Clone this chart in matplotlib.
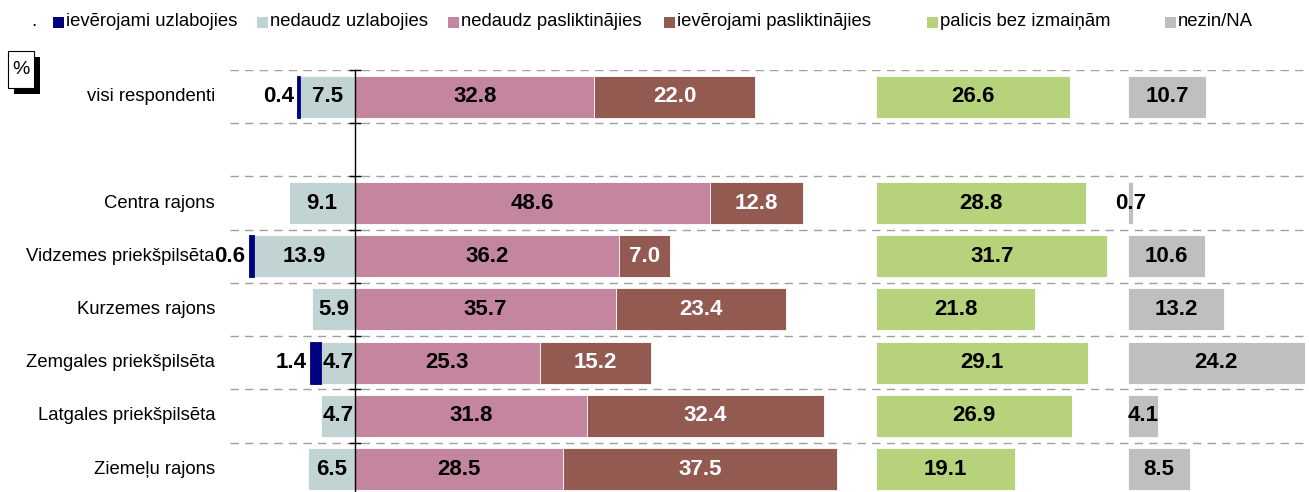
import matplotlib
matplotlib.use("Agg")
import matplotlib.pyplot as plt
from matplotlib.patches import Rectangle
import numpy as np

plt.rcParams['font.family'] = ['Liberation Sans', 'DejaVu Sans']

categories = ["visi respondenti", "Centra rajons", "Vidzemes priekšpilsēta", "Kurzemes rajons",
              "Zemgales priekšpilsēta", "Latgales priekšpilsēta", "Ziemeļu rajons"]
iev_uzl = [0.4, 0.0, 0.6, 0.0, 1.4, 0.0, 0.0]
ned_uzl = [7.5, 9.1, 13.9, 5.9, 4.7, 4.7, 6.5]
ned_pas = [32.8, 48.6, 36.2, 35.7, 25.3, 31.8, 28.5]
iev_pas = [22.0, 12.8, 7.0, 23.4, 15.2, 32.4, 37.5]
palicis = [26.6, 28.8, 31.7, 21.8, 29.1, 26.9, 19.1]
nezin = [10.7, 0.7, 10.6, 13.2, 24.2, 4.1, 8.5]
legend_labels = ["ievērojami uzlabojies", "nedaudz uzlabojies", "nedaudz pasliktinājies",
                 "ievērojami pasliktinājies", "palicis bez izmaiņām", "nezin/NA"]

colors = ["#000080", "#C2D3D3", "#C4869E", "#935A52", "#B6D27B", "#BFBFBF"]

W, H = 1309, 492
fig = plt.figure(figsize=(W / 100, H / 100), dpi=100)

def fx(x):
    return x / W

def fy(y):
    return 1 - y / H

# axes geometry in pixels
ax_left, ax_right, ax_top, ax_bottom = 230, 1309, 70, 492
ax = fig.add_axes([fx(ax_left), fy(ax_bottom), (ax_right - ax_left) / W, (ax_bottom - ax_top) / H])

scale = 7.3  # px per unit
zero_px = 355
xmin = (ax_left - zero_px) / scale
xmax = (ax_right - zero_px) / scale
green_off = (876 - zero_px) / scale
gray_off = (1128 - zero_px) / scale

ypos = np.array([0] + list(range(2, 2 + len(categories) - 1)))
ax.set_xlim(xmin, xmax)
ax.set_ylim(7.43, -0.5)

bh = 0.79
iev_uzl = np.array(iev_uzl); ned_uzl = np.array(ned_uzl)
ned_pas = np.array(ned_pas); iev_pas = np.array(iev_pas)
palicis = np.array(palicis); nezin = np.array(nezin)

ek = dict(edgecolor="white", linewidth=0.6, zorder=3)
ax.barh(ypos, -ned_uzl, height=bh, color=colors[1], **ek)
mask = iev_uzl > 0
ax.barh(ypos[mask], -iev_uzl[mask], left=-ned_uzl[mask], height=bh, color=colors[0],
        edgecolor=colors[0], linewidth=0.6, zorder=3)
ax.barh(ypos, ned_pas, height=bh, color=colors[2], **ek)
ax.barh(ypos, iev_pas, left=ned_pas, height=bh, color=colors[3], **ek)
ax.barh(ypos, palicis, left=green_off, height=bh, color=colors[4], **ek)
ax.barh(ypos, nezin, left=gray_off, height=bh, color=colors[5], **ek)

tk = dict(fontsize=16, fontweight="bold", va="center", zorder=5)
for i, y in enumerate(ypos):
    ax.text(-ned_uzl[i] / 2, y, f"{ned_uzl[i]:.1f}", ha="center", color="black", **tk)
    if iev_uzl[i] > 0:
        ax.text(-ned_uzl[i] - iev_uzl[i] - 0.5, y, f"{iev_uzl[i]:.1f}", ha="right", color="black", **tk)
    ax.text(ned_pas[i] / 2, y, f"{ned_pas[i]:.1f}", ha="center", color="black", **tk)
    ax.text(ned_pas[i] + iev_pas[i] / 2, y, f"{iev_pas[i]:.1f}", ha="center", color="white", **tk)
    ax.text(green_off + palicis[i] / 2, y, f"{palicis[i]:.1f}", ha="center", color="black", **tk)
    ax.text(gray_off + nezin[i] / 2, y, f"{nezin[i]:.1f}", ha="center", color="black", **tk)
    ax.text(-15 / (ax_right - ax_left), y, categories[i], ha="right", va="center",
            fontsize=13.3, color="black", transform=ax.get_yaxis_transform())

# dashed separators
bounds = [-0.5, 0.5, 1.5, 2.5, 3.5, 4.5, 5.5, 6.5]
ax.hlines(bounds, xmin, xmax, colors="#A0A0A0", linewidth=1.0, linestyles=(0, (6, 4.5)), zorder=1)

# spines / ticks
for s in ["top", "right", "bottom"]:
    ax.spines[s].set_visible(False)
ax.spines["left"].set_position(("data", 0))
ax.spines["left"].set_linewidth(1.0)
ax.spines["left"].set_zorder(6)
ax.set_xticks([])
ax.set_yticks(bounds)
ax.set_yticklabels([])
ax.tick_params(axis="y", direction="inout", length=8, width=1.0)

# legend (manual)
leg_x = [53, 257, 448, 664, 927, 1165]
for x, c, lab in zip(leg_x, colors, legend_labels):
    fig.patches.append(Rectangle((fx(x), fy(28)), 11 / W, 11 / H, transform=fig.transFigure,
                                 facecolor=c, edgecolor="none"))
    fig.text(fx(x + 13), fy(22), lab, ha="left", va="center", fontsize=13.3)
fig.text(fx(31), fy(22), ".", ha="left", va="center", fontsize=13.3)

# % box with shadow
fig.patches.append(Rectangle((fx(14), fy(94)), 26 / W, 37 / H, transform=fig.transFigure,
                             facecolor="black", edgecolor="none"))
fig.patches.append(Rectangle((fx(8), fy(88)), 26 / W, 37 / H, transform=fig.transFigure,
                             facecolor="white", edgecolor="black", linewidth=0.8))
fig.text(fx(21), fy(70), "%", ha="center", va="center", fontsize=14)

fig.savefig("out.png", dpi=100)
